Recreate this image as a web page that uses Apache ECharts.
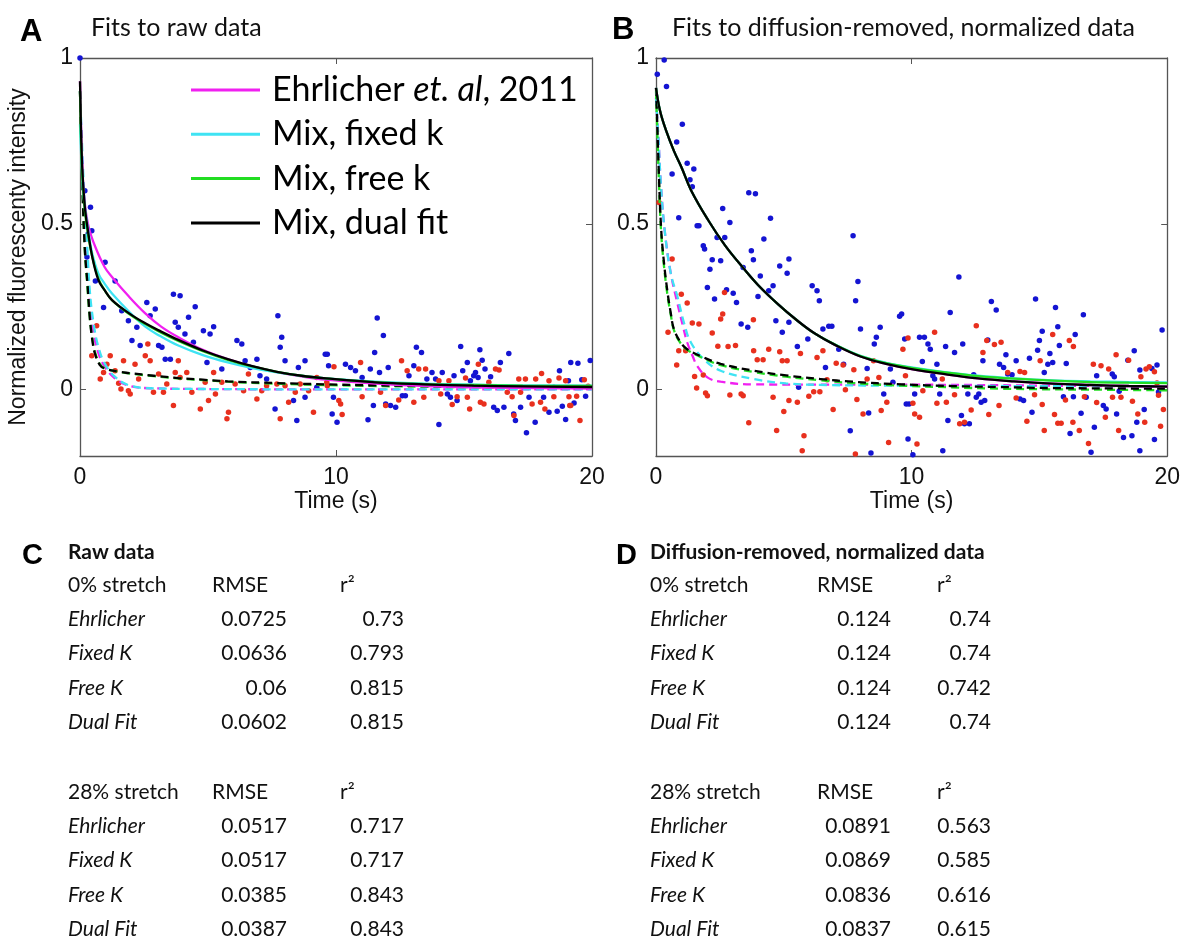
<!DOCTYPE html>
<html><head><meta charset="utf-8">
<script src="https://cdn.jsdelivr.net/npm/echarts@6/dist/echarts.min.js"></script>
<style>html,body{margin:0;padding:0;background:#fff}#c{width:1183px;height:940px}</style>
</head><body><div id="c"></div>
<script>
// ---------- axis ticks ----------
const xTicks = [0, 10, 20];
const yTicks = [0, 0.5, 1];
const legendNames = ['Ehrlicher et. al, 2011', 'Mix, fixed k', 'Mix, free k', 'Mix, dual fit'];
const panelTitles = ['Fits to raw data', 'Fits to diffusion-removed, normalized data'];

// ---------- panel A data (raw) ----------
const rawBlue = [[0,1],[0.19,0.6],[0.27,0.40],[0.32,0.47],[0.41,0.55],[0.46,0.479],[0.6,0.328],[0.92,0.248],[0.98,0.384],[1.37,0.328],[1.63,0.238],[1.89,0.208],[2.03,0.148],[2.22,0.188],[2.35,0.133],[2.61,0.263],[2.74,0.223],[2.94,0.243],[3.07,0.133],[3.2,0.128],[3.33,0.092],[3.53,0.092],[3.65,0.288],[3.72,0.203],[3.84,0.188],[3.91,0.283],[4.1,0.168],[4.24,0.218],[4.43,0.143],[4.5,0.25],[4.82,0.178],[4.96,0.082],[5.08,0.168],[5.22,0.19],[5.54,0.062],[6.13,0.148],[6.32,0.138],[6.45,0.087],[6.65,0.067],[6.91,0.092],[7.03,0.042],[7.29,0.032],[7.62,-0.058],[7.73,0.223],[7.82,0.128],[7.88,0.158],[8.01,0.087],[8.34,-0.033],[8.47,-0.093],[8.53,0.067],[8.79,0.087],[8.79,-0.023],[9.25,0.007],[9.58,0.107],[9.66,0.107],[9.71,0.072],[9.85,-0.073],[9.9,-0.023],[10.04,-0.098],[10.37,0.077],[10.57,0.067],[10.76,0.057],[11.02,0.037],[11.25,-0.091],[11.34,0.062],[11.46,-0.048],[11.51,0.112],[11.61,0.216],[11.7,0.052],[11.85,0.163],[11.94,-0.043],[12.04,0.067],[12.13,-0.048],[12.33,-0.053],[12.59,-0.018],[12.71,-0.018],[12.85,0.042],[13.04,0.072],[13.14,0.128],[13.34,0.112],[13.55,0.032],[13.75,0.052],[13.89,0.032],[14.02,-0.105],[14.15,0.052],[14.35,-0.013],[14.47,-0.023],[14.61,0.042],[14.73,-0.033],[14.87,0.13],[14.95,0.057],[15.13,0.082],[15.25,0.027],[15.38,0.042],[15.45,0.052],[15.55,0.037],[15.62,0.12],[15.71,0.089],[15.82,0.062],[16.04,0.039],[16.16,-0.053],[16.3,-0.063],[16.42,0.082],[16.56,-0.053],[16.75,0.109],[16.94,-0.073],[17.01,-0.093],[17.21,-0.053],[17.44,-0.13],[17.54,-0.023],[17.78,-0.098],[18.11,-0.023],[18.32,-0.068],[18.51,0.007],[18.64,-0.065],[18.73,0.057],[18.84,-0.05],[18.97,-0.09],[19.08,0.027],[19.17,0.082],[19.3,-0.04],[19.45,0.08],[19.6,0.03],[19.75,-0.02],[19.93,0.088]];
const rawRed = [[0.46,0.102],[0.65,0.193],[0.79,0.032],[0.92,0.052],[1.05,0.077],[1.18,0.102],[1.37,0.057],[1.51,0.019],[1.6,0.002],[1.7,0.087],[1.89,-0.003],[1.96,-0.013],[2.15,0.077],[2.29,0.032],[2.55,0.102],[2.65,0.138],[2.74,0.087],[2.87,-0.008],[3.07,0.047],[3.26,-0.008],[3.39,0.017],[3.65,-0.048],[3.72,0.052],[3.84,0.087],[3.91,0.037],[4.17,0.052],[4.37,-0.008],[4.7,-0.058],[4.89,0.022],[5.02,-0.033],[5.22,0.052],[5.29,-0.013],[5.54,0.022],[5.74,-0.088],[5.8,-0.068],[6.06,0.017],[6.39,-0.003],[6.58,0.047],[6.91,-0.028],[7.1,-0.003],[7.29,0.012],[7.69,0.017],[7.82,-0.088],[8.01,0.012],[8.15,-0.038],[8.41,-0.008],[8.6,0.017],[8.93,-0.003],[9.12,-0.068],[9.25,0.037],[9.64,0.022],[9.66,0.012],[9.92,0.069],[10.11,-0.033],[10.18,-0.043],[10.24,-0.075],[10.96,0.082],[11.02,-0.021],[11.42,0.019],[11.74,-0.008],[11.94,-0.048],[12.45,-0.031],[12.56,0.087],[12.78,0.057],[13.04,-0.038],[13.23,0.062],[13.43,-0.023],[13.5,0.062],[14.02,0.027],[14.09,-0.013],[14.41,0.027],[14.54,-0.045],[14.73,-0.021],[15.06,0.035],[15.13,-0.023],[15.22,-0.058],[15.56,0.077],[15.64,-0.038],[15.78,-0.043],[15.97,0.022],[16.23,0.062],[16.37,0.059],[16.69,-0.008],[16.88,-0.021],[16.95,-0.078],[17.14,0.032],[17.21,-0.008],[17.4,0.032],[17.66,-0.043],[17.8,0.032],[17.99,-0.038],[18.03,0.049],[18.16,-0.058],[18.32,0.027],[18.51,-0.021],[18.71,0.035],[18.97,0.027],[19.1,-0.021],[19.13,-0.048],[19.17,-0.048],[19.4,-0.02],[19.53,-0.093],[19.7,0.03],[19.85,0.01]];

// fits: solid = blue data, dashed = red data
const rawEhrBlue = [[0,0.93],[0.1,0.66],[0.19,0.56],[0.34,0.49],[0.6,0.43],[0.96,0.37],[1.25,0.34],[1.92,0.28],[2.55,0.23],[3.17,0.19],[3.84,0.158],[4.8,0.12],[5.77,0.092],[6.73,0.07],[7.69,0.053],[8.65,0.04],[9.61,0.03],[11.53,0.018],[13.45,0.011],[15.38,0.007],[20,0.003]];
const rawFixedBlue = [[0,0.8],[0.1,0.62],[0.19,0.55],[0.34,0.47],[0.48,0.41],[0.72,0.35],[0.96,0.32],[1.25,0.29],[1.92,0.235],[2.55,0.19],[3.17,0.16],[3.84,0.133],[4.8,0.104],[5.77,0.082],[6.73,0.065],[7.69,0.052],[8.65,0.042],[9.61,0.034],[11.53,0.024],[13.45,0.018],[15.38,0.015],[17.3,0.013],[20,0.012]];
const rawFreeBlue = [[0,0.9],[0.05,0.72],[0.1,0.63],[0.19,0.54],[0.29,0.48],[0.48,0.4],[0.72,0.335],[0.96,0.3],[1.25,0.27],[1.92,0.228],[2.55,0.198],[3.17,0.172],[3.84,0.147],[4.8,0.116],[5.77,0.09],[6.73,0.07],[7.69,0.054],[8.65,0.042],[9.61,0.034],[11.53,0.023],[13.45,0.017],[15.38,0.014],[17.3,0.012],[20,0.011]];
const rawDualBlue = [[0,0.93],[0.05,0.75],[0.1,0.65],[0.19,0.55],[0.29,0.49],[0.48,0.4],[0.72,0.33],[0.96,0.3],[1.25,0.27],[1.92,0.23],[2.55,0.2],[3.17,0.175],[3.84,0.15],[4.8,0.118],[5.77,0.092],[6.73,0.071],[7.69,0.054],[8.65,0.042],[9.61,0.034],[11.53,0.022],[13.45,0.016],[15.38,0.012],[17.3,0.01],[20,0.008]];
const rawEhrRed = [[0,0.9],[0.1,0.65],[0.19,0.48],[0.29,0.36],[0.38,0.26],[0.53,0.17],[0.72,0.11],[0.96,0.07],[1.35,0.035],[1.92,0.012],[2.88,0.004],[4.8,0.002],[9.6,0.001],[20,0.001]];
const rawFixedRed = [[0,0.9],[0.1,0.7],[0.19,0.55],[0.29,0.42],[0.38,0.3],[0.53,0.2],[0.72,0.128],[0.96,0.08],[1.35,0.04],[1.92,0.013],[2.88,0.004],[4.8,0.002],[9.6,0.001],[20,0.001]];
const rawFreeRed = [[0,0.9],[0.1,0.6],[0.19,0.42],[0.29,0.31],[0.38,0.22],[0.48,0.155],[0.58,0.115],[0.77,0.078],[0.96,0.065],[1.44,0.055],[1.92,0.049],[2.88,0.041],[3.84,0.034],[4.8,0.029],[5.77,0.024],[7.69,0.018],[9.61,0.014],[11.53,0.011],[14.4,0.008],[20,0.005]];
const rawDualRed = [[0,0.9],[0.1,0.6],[0.19,0.42],[0.29,0.32],[0.38,0.22],[0.48,0.15],[0.58,0.11],[0.77,0.075],[0.96,0.064],[1.44,0.055],[1.92,0.05],[2.88,0.042],[3.84,0.035],[4.8,0.03],[5.77,0.025],[7.69,0.02],[9.61,0.016],[11.53,0.013],[14.4,0.01],[20,0.007]];

// ---------- panel B data (diffusion-removed, normalized) ----------
const normBlue = [[0.05,0.951],[0.32,0.994],[0.41,0.914],[0.63,0.65],[0.81,0.747],[0.89,0.518],[1.03,0.8],[1.22,0.683],[1.33,0.633],[1.42,0.612],[1.48,0.665],[1.61,0.494],[1.68,0.494],[1.85,0.434],[1.9,0.424],[2.01,0.308],[2.11,0.363],[2.2,0.392],[2.29,0.273],[2.39,0.459],[2.53,0.389],[2.61,0.546],[2.69,0.459],[2.76,0.301],[2.89,0.504],[3.02,0.291],[3.15,0.263],[3.33,0.198],[3.41,0.368],[3.59,0.188],[3.63,0.594],[3.73,0.419],[3.81,0.392],[3.89,0.591],[3.99,0.281],[4.08,0.343],[4.22,0.454],[4.41,0.298],[4.48,0.517],[4.58,0.313],[4.69,0.208],[4.84,0.373],[4.94,0.173],[5.13,0.351],[5.2,0.394],[5.2,0.203],[5.53,0.13],[5.58,0.007],[5.94,0.153],[6.11,0.313],[6.3,0.298],[6.39,0.268],[6.53,0.183],[6.63,0.067],[6.76,0.191],[6.88,0.191],[7.15,0.122],[7.34,0.077],[7.6,-0.124],[7.71,0.464],[7.81,0.268],[7.9,0.326],[8.0,0.183],[8.26,0.064],[8.32,-0.07],[8.41,-0.191],[8.54,0.138],[8.62,0.158],[8.77,0.188],[8.91,-0.013],[9.17,0.062],[9.27,0.022],[9.53,0.221],[9.61,0.228],[9.73,0.153],[9.79,-0.043],[9.9,-0.043],[9.86,-0.149],[10.05,-0.196],[10.12,-0.013],[10.31,0.158],[10.5,0.158],[10.42,0.085],[10.64,0.138],[10.73,0.122],[10.83,0.042],[10.9,0.032],[10.99,0.077],[11.1,-0.013],[11.22,-0.184],[11.33,0.13],[11.42,-0.093],[11.51,0.233],[11.68,0.112],[11.85,0.34],[11.95,-0.078],[12.0,0.138],[12.07,-0.103],[12.2,-0.013],[12.26,-0.103],[12.43,0.045],[12.53,-0.023],[12.63,-0.013],[12.72,-0.038],[12.86,-0.033],[12.79,0.087],[12.98,0.15],[13.12,0.266],[13.31,0.24],[13.44,0.077],[13.6,0.067],[13.69,0.105],[13.76,0.047],[13.93,0.045],[14.09,0.087],[14.24,-0.028],[14.38,-0.033],[14.61,0.095],[14.71,-0.068],[14.85,0.273],[14.93,0.119],[15.0,0.148],[15.11,0.176],[15.19,0.052],[15.33,0.077],[15.41,0.109],[15.52,0.082],[15.63,0.248],[15.72,0.19],[15.78,0.133],[15.94,-0.021],[16.05,0.079],[16.2,-0.132],[16.33,-0.021],[16.4,0.166],[16.63,-0.071],[16.72,0.226],[16.83,-0.023],[17.02,-0.189],[17.15,-0.113],[17.24,0.042],[17.5,-0.048],[17.61,-0.058],[17.85,0.047],[17.93,0.039],[18.02,-0.073],[18.12,-0.005],[18.29,-0.144],[18.46,0.089],[18.62,-0.139],[18.71,0.117],[18.81,-0.098],[18.93,-0.184],[18.93,0.059],[19.1,-0.06],[19.4,0.064],[19.5,-0.15],[19.6,0.074],[19.66,-0.007],[19.8,0.18]];
const normRed = [[0.12,0.564],[0.47,0.173],[0.63,0.394],[0.81,0.074],[0.89,0.117],[0.99,0.288],[1.16,0.117],[1.22,0.261],[1.42,0.201],[1.51,0.04],[1.59,0.005],[1.68,0.198],[1.85,0.044],[1.94,-0.01],[2.01,-0.018],[2.2,0.171],[2.42,0.131],[2.53,0.213],[2.61,0.228],[2.68,0.293],[2.82,0.13],[2.89,-0.016],[3.11,0.133],[3.33,-0.013],[3.41,-0.018],[3.63,-0.1],[3.81,0.211],[3.82,0.117],[3.96,0.09],[4.19,0.09],[4.41,0.122],[4.58,-0.023],[4.72,-0.123],[4.84,0.114],[4.94,0.087],[5.0,-0.066],[5.13,0.087],[5.2,-0.033],[5.53,-0.038],[5.65,0.109],[5.72,-0.184],[5.79,-0.139],[5.98,-0.02],[6.17,-0.006],[6.3,0.097],[6.41,-0.006],[6.53,0.117],[6.69,0.03],[6.93,-0.06],[7.05,0.08],[7.32,0.074],[7.41,0],[7.74,0.06],[7.8,-0.194],[7.86,-0.03],[8.1,-0.073],[8.26,0.032],[8.51,0.087],[8.72,0.037],[8.81,-0.063],[9.03,-0.038],[9.1,-0.159],[9.66,0.122],[9.76,0.042],[9.86,0.156],[10.05,-0.041],[10.12,-0.073],[10.21,-0.164],[10.31,-0.083],[10.44,-0.003],[10.9,0.173],[10.99,-0.041],[11.2,0.032],[11.36,-0.038],[11.68,-0.015],[11.88,-0.103],[12.07,-0.098],[12.33,-0.061],[12.53,0.193],[12.79,0.112],[12.94,0.148],[13.02,-0.075],[13.24,0.136],[13.42,-0.048],[13.5,0.143],[13.76,0.052],[14.09,-0.025],[14.24,0.055],[14.42,0.052],[14.51,-0.095],[14.81,-0.015],[15.03,0.087],[15.11,-0.045],[15.19,-0.123],[15.52,0.166],[15.59,-0.075],[15.72,-0.101],[15.85,-0.101],[16.02,-0.031],[16.17,0.148],[16.33,0.13],[16.31,-0.098],[16.56,-0.123],[16.76,-0.021],[16.92,-0.162],[17.11,0.077],[17.24,-0.039],[17.41,0.072],[17.58,-0.083],[17.71,0.062],[17.86,-0.023],[18.0,0.105],[18.1,-0.123],[18.19,-0.023],[18.49,0.089],[18.64,-0.035],[18.85,-0.073],[18.97,0.039],[19.12,-0.098],[19.17,0.062],[19.3,0.069],[19.5,0.054],[19.6,0.02],[19.66,-0.017],[19.74,-0.11],[19.85,-0.06]];

const normEhrBlue = [[0,0.91],[0.16,0.84],[0.4,0.78],[0.7,0.72],[1,0.67],[1.38,0.6],[2.05,0.51],[2.7,0.435],[3.4,0.368],[4,0.315],[4.77,0.258],[5.5,0.21],[6.2,0.17],[7,0.135],[8,0.1],[9,0.078],[10,0.062],[11.3,0.047],[12.6,0.034],[14,0.025],[15.5,0.018],[17,0.014],[18.5,0.011],[20,0.009]];
const normFixedBlue = [[0,0.91],[0.16,0.84],[0.4,0.78],[0.7,0.72],[1,0.67],[1.38,0.6],[2.05,0.51],[2.7,0.435],[3.4,0.368],[4,0.315],[4.77,0.258],[5.5,0.21],[6.2,0.17],[7,0.136],[8,0.102],[9,0.081],[10,0.067],[11.3,0.053],[12.6,0.042],[14,0.034],[15.5,0.028],[17,0.025],[18.5,0.023],[20,0.022]];
const normFreeBlue = [[0,0.91],[0.16,0.84],[0.4,0.78],[0.7,0.72],[1,0.67],[1.38,0.6],[2.05,0.51],[2.7,0.435],[3.4,0.368],[4,0.315],[4.77,0.258],[5.5,0.21],[6.2,0.17],[7,0.136],[8,0.101],[9,0.08],[10,0.066],[11.3,0.052],[12.6,0.041],[14,0.033],[15.5,0.027],[17,0.023],[18.5,0.021],[20,0.02]];
const normDualBlue = [[0,0.91],[0.16,0.84],[0.4,0.78],[0.7,0.72],[1,0.67],[1.38,0.6],[2.05,0.51],[2.7,0.435],[3.4,0.368],[4,0.315],[4.77,0.258],[5.5,0.21],[6.2,0.17],[7,0.135],[8,0.1],[9,0.078],[10,0.062],[11.3,0.047],[12.6,0.034],[14,0.025],[15.5,0.018],[17,0.014],[18.5,0.011],[20,0.009]];
const normEhrRed = [[0,0.88],[0.1,0.75],[0.19,0.62],[0.34,0.48],[0.58,0.35],[0.84,0.26],[1.06,0.19],[1.22,0.143],[1.44,0.1],[1.61,0.072],[2.01,0.037],[2.53,0.024],[3.84,0.016],[6.73,0.015],[9.61,0.015],[12.5,0.014],[15.4,0.012],[20,0.01]];
const normFixedRed = [[0,0.88],[0.1,0.75],[0.19,0.62],[0.34,0.48],[0.58,0.35],[0.84,0.28],[1.1,0.2],[1.36,0.143],[1.87,0.092],[2.53,0.057],[3.84,0.032],[5.09,0.019],[6.73,0.014],[9.61,0.012],[13.45,0.011],[20,0.01]];
const normFreeRed = [[0,0.9],[0.05,0.78],[0.1,0.66],[0.19,0.49],[0.29,0.39],[0.44,0.29],[0.58,0.225],[0.7,0.18],[0.96,0.14],[1.22,0.12],[1.87,0.094],[2.53,0.074],[3.84,0.053],[5.09,0.039],[6.44,0.028],[7.69,0.02],[9.61,0.012],[11.53,0.007],[13.45,0.003],[15.38,0.001],[17.3,0],[20,-0.002]];
const normDualRed = [[0,0.91],[0.05,0.8],[0.1,0.68],[0.19,0.5],[0.29,0.4],[0.44,0.3],[0.58,0.23],[0.7,0.183],[0.96,0.143],[1.22,0.122],[1.87,0.097],[2.53,0.078],[3.84,0.057],[5.09,0.043],[6.44,0.032],[7.69,0.024],[9.61,0.016],[11.53,0.011],[13.45,0.008],[15.38,0.005],[17.3,0.004],[20,0.003]];

// ---------- tables ----------
const tableHeaders = ['Raw data', 'Diffusion-removed, normalized data'];
const blockLabels = ['0% stretch', '28% stretch'];
const colHeaders = ['RMSE', 'r²'];
const rowLabels = ['Ehrlicher', 'Fixed K', 'Free K', 'Dual Fit'];
const rawRmse0 = ['0.0725', '0.0636', '0.06', '0.0602'];
const rawR2_0 = ['0.73', '0.793', '0.815', '0.815'];
const rawRmse28 = ['0.0517', '0.0517', '0.0385', '0.0387'];
const rawR2_28 = ['0.717', '0.717', '0.843', '0.843'];
const normRmse0 = ['0.124', '0.124', '0.124', '0.124'];
const normR2_0 = ['0.74', '0.74', '0.742', '0.74'];
const normRmse28 = ['0.0891', '0.0869', '0.0836', '0.0837'];
const normR2_28 = ['0.563', '0.585', '0.616', '0.615'];

// ---------- build ----------
const COLORS = {mag: '#f020f0', cyan: '#3fe3f3', green: '#22dd22', black: '#000000', blue: '#1414d2', red: '#e8301e'};
const AX = '#555';
const AXFONT = 'Liberation Sans, Arial, sans-serif';
const TXT = 'Lato, "Open Sans", sans-serif';
const AXFS = 23;

function xAxes(gi) {
  return [
    {type: 'value', gridIndex: gi, min: 0, max: 20, interval: 10, position: 'bottom',
     axisLine: {show: true, onZero: false, lineStyle: {color: AX, width: 1.3}},
     axisTick: {show: true, inside: true, length: 6, lineStyle: {color: AX}},
     axisLabel: {customValues: xTicks, fontFamily: AXFONT, fontSize: AXFS, color: '#111', margin: 10},
     splitLine: {show: false},
     name: 'Time (s)', nameLocation: 'middle', nameGap: 33,
     nameTextStyle: {fontFamily: AXFONT, fontSize: AXFS, color: '#111'}},
    {type: 'value', gridIndex: gi, min: 0, max: 20, interval: 10, position: 'top',
     axisLine: {show: true, onZero: false, lineStyle: {color: AX, width: 1.3}},
     axisTick: {show: true, inside: true, length: 6, lineStyle: {color: AX}},
     axisLabel: {show: false}, splitLine: {show: false}}
  ];
}
function yAxes(gi, withName) {
  const main = {type: 'value', gridIndex: gi, min: -0.2, max: 1, position: 'left',
     axisLine: {show: true, onZero: false, lineStyle: {color: AX, width: 1.3}},
     axisTick: {show: true, inside: true, length: 6, customValues: yTicks, lineStyle: {color: AX}},
     axisLabel: {customValues: yTicks, fontFamily: AXFONT, fontSize: AXFS, color: '#111', margin: 7},
     splitLine: {show: false}};
  if (withName) {
    main.name = 'Normalized fluorescenty intensity';
    main.nameLocation = 'middle';
    main.nameGap = 50;
    main.nameTextStyle = {fontFamily: AXFONT, fontSize: AXFS, color: '#111'};
  }
  return [main,
    {type: 'value', gridIndex: gi, min: -0.2, max: 1, position: 'right',
     axisLine: {show: true, onZero: false, lineStyle: {color: AX, width: 1.3}},
     axisTick: {show: true, inside: true, length: 6, customValues: yTicks, lineStyle: {color: AX}},
     axisLabel: {show: false}, splitLine: {show: false}}];
}

function scatter(data, color, ai) {
  return {type: 'scatter', data: data, xAxisIndex: ai, yAxisIndex: ai, symbol: 'circle', symbolSize: 5.5,
    itemStyle: {color: color, opacity: 1}, z: 2, silent: true};
}
function fit(name, data, color, dashed, ai, z) {
  return {type: 'line', name: name, data: data, xAxisIndex: ai, yAxisIndex: ai, showSymbol: false, symbol: 'none',
    smooth: 0.4,
    lineStyle: {color: color, width: 2.3, type: dashed ? [8, 5] : 'solid'},
    itemStyle: {color: color}, z: z, silent: true};
}

const fitSets = [
  {ai: 0, solid: [rawEhrBlue, rawFixedBlue, rawFreeBlue, rawDualBlue], dashed: [rawEhrRed, rawFixedRed, rawFreeRed, rawDualRed], blue: rawBlue, red: rawRed},
  {ai: 2, solid: [normEhrBlue, normFixedBlue, normFreeBlue, normDualBlue], dashed: [normEhrRed, normFixedRed, normFreeRed, normDualRed], blue: normBlue, red: normRed}
];
const fitColors = [COLORS.mag, COLORS.cyan, COLORS.green, COLORS.black];

const series = [];
fitSets.forEach(s => {
  series.push(scatter(s.blue, COLORS.blue, s.ai));
  series.push(scatter(s.red, COLORS.red, s.ai));
  s.dashed.forEach((d, i) => series.push(fit(legendNames[i], d, fitColors[i], true, s.ai, 3 + i * 0.1)));
  s.solid.forEach((d, i) => series.push(fit(legendNames[i], d, fitColors[i], false, s.ai, 4 + i * 0.1)));
});

// graphic texts
const graphic = [];
function txt(x, y, text, opt) {
  graphic.push({type: 'text', x: x, y: y, silent: true,
    style: Object.assign({text: text, fill: '#111', fontFamily: TXT, fontSize: 21, align: 'left', verticalAlign: 'middle'}, opt || {})});
}
txt(20, 32, 'A', {fontFamily: AXFONT, fontWeight: 'bold', fontSize: 31, fill: '#000'});
txt(91, 28, panelTitles[0], {fontSize: 25});
txt(612, 30, 'B', {fontFamily: AXFONT, fontWeight: 'bold', fontSize: 31, fill: '#000'});
txt(672, 28, panelTitles[1], {fontSize: 25});

const tables = [
  {letter: 'C', lx: 22, hx: 68, colX: [212, 287, 340, 404], blocks: [[rawRmse0, rawR2_0], [rawRmse28, rawR2_28]]},
  {letter: 'D', lx: 616, hx: 650, colX: [817, 891, 937, 991], blocks: [[normRmse0, normR2_0], [normRmse28, normR2_28]]}
];
const blockY = [585, 792];
const rowStep = 34.25;
tables.forEach((t, ti) => {
  txt(t.lx, 556, t.letter, {fontFamily: AXFONT, fontWeight: 'bold', fontSize: 29, fill: '#000'});
  txt(t.hx, 552, tableHeaders[ti], {fontWeight: 'bold', fontSize: 21});
  t.blocks.forEach((b, bi) => {
    const y0 = blockY[bi];
    txt(t.hx, y0, blockLabels[bi]);
    txt(t.colX[0], y0, colHeaders[0]);
    txt(t.colX[2], y0, colHeaders[1]);
    rowLabels.forEach((lab, ri) => {
      const y = y0 + rowStep * (ri + 1);
      txt(t.hx, y, lab, {fontStyle: 'italic'});
      txt(t.colX[1], y, b[0][ri], {align: 'right'});
      txt(t.colX[3], y, b[1][ri], {align: 'right'});
    });
  });
});

const LF = 34;
const chart = echarts.init(document.getElementById('c'), null, {renderer: 'canvas'});
chart.setOption({
  animation: false,
  backgroundColor: '#fff',
  grid: [
    {left: 80, top: 58, width: 512, height: 398},
    {left: 656, top: 58, width: 512, height: 398}
  ],
  xAxis: xAxes(0).concat(xAxes(1)),
  yAxis: yAxes(0, true).concat(yAxes(1, false)),
  legend: {
    data: legendNames.map((n, i) => ({name: n, itemStyle: {color: fitColors[i]}})),
    orient: 'vertical', left: 191, top: 71, padding: 0, itemGap: 6.3,
    itemWidth: 69, itemHeight: 3, icon: 'rect', selectedMode: false,
    formatter: function (name) {
      const m = name.match(/^(.*?)(et\. al)(.*)$/);
      if (m) return '{s|}{n|' + m[1] + '}{i|' + m[2] + '}{n|' + m[3] + '}';
      return '{s|}{n|' + name + '}';
    },
    textStyle: {fontFamily: TXT, fontSize: LF, color: '#000', lineHeight: 38,
      rich: {s: {width: 7}, n: {fontFamily: TXT, fontSize: LF, color: '#000', lineHeight: 38},
             i: {fontFamily: TXT, fontSize: LF, fontStyle: 'italic', color: '#000', lineHeight: 38}}}
  },
  graphic: graphic,
  series: series
});
</script>
</body></html>
